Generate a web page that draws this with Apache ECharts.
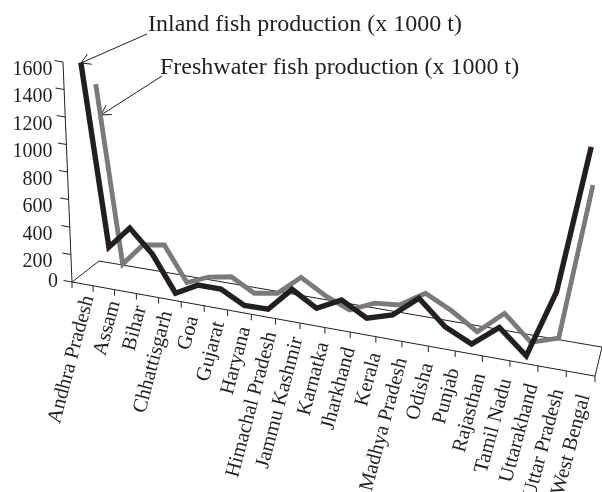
<!DOCTYPE html>
<html>
<head>
<meta charset="utf-8">
<script src="https://cdn.jsdelivr.net/npm/echarts@6/dist/echarts.min.js"></script>
<style>
html,body{margin:0;padding:0;background:#ffffff;}
#chart{width:602px;height:492px;}
</style>
</head>
<body>
<div id="chart"></div>
<script>
// ---- data ----
const categories = ['Andhra Pradesh','Assam','Bihar','Chhattisgarh','','Goa','Gujarat','Haryana',
  'Himachal Pradesh','Jammu Kashmir','Karnatka','Jharkhand','Kerala','Madhya Pradesh','Odisha',
  'Punjab','Rajasthan','Tamil Nadu','Uttarakhand','Uttar Pradesh','West Bengal'];
const inlandProduction = [1580, 255, 417, 256, 5, 90, 90, 5, 8, 172, 72, 157, 64, 115, 254, 98, 17, 154, 3, 439, 1374];
const freshwaterProduction = [1373, 55, 221, 246, 0, 67, 96, 7, 35, 173, 76, 5, 81, 97, 204, 118, 8, 158, 0, 57, 1067];
const valueTicks = [0, 200, 400, 600, 800, 1000, 1200, 1400, 1600];
const seriesNames = ['Inland fish production (x 1000 t)', 'Freshwater fish production (x 1000 t)'];

// ---- styling ----
const INK = '#231f20';
const GRAY = '#7a7a7a';
const SERIF = '"Liberation Serif","Times New Roman",serif';
const N = categories.length;

// perspective mapping of the flat cartesian grid onto the 3-D floor
function project(cs, px, py, s) {
  const x0 = cs.x, y0 = cs.y + cs.height, W = cs.width;
  const tau = (px - x0) / W;
  const h0 = y0 - py;
  const X = x0 + W * (0.8387 * tau + 0.1613 * tau * tau);
  const Yf = y0 + 0.18 * (X - x0);
  const bx = X + s * (27 - 20 * tau);
  const by = Yf + s * (-21 - 8 * tau);
  const h = h0 * Math.sqrt(1 + 0.3847 * tau) * (1 - 0.04 * s);
  const lean = (bx - 330) * h / 6300;
  return [bx + lean, by - h];
}

function renderFloor(params, api) {
  const cs = params.coordSys;
  const x0 = cs.x, y0 = cs.y + cs.height, W = cs.width;
  const P = (px, py, s) => project(cs, px, py, s);
  const bandX = k => x0 + W * k / N;
  const thin = {stroke: INK, lineWidth: 1, fill: null};
  const children = [];
  const front = [], back = [];
  for (let k = 0; k <= N; k++) {
    front.push(P(bandX(k), y0, 0));
    back.push(P(bandX(k), y0, 1));
  }
  children.push({type: 'polyline', shape: {points: front}, style: thin});
  children.push({type: 'polyline', shape: {points: back}, style: thin});
  children.push({type: 'line', shape: {x1: front[0][0], y1: front[0][1], x2: back[0][0], y2: back[0][1]}, style: thin});
  children.push({type: 'line', shape: {x1: front[N][0], y1: front[N][1], x2: back[N][0], y2: back[N][1]}, style: thin});
  for (let k = 0; k <= N; k++) {
    const p = front[k];
    children.push({type: 'line', shape: {x1: p[0], y1: p[1], x2: p[0], y2: p[1] + 6}, style: thin});
  }
  // value axis
  const axisPts = valueTicks.map(v => P(x0, api.coord([0, v])[1], 0));
  const top = axisPts[axisPts.length - 1];
  children.push({type: 'line', shape: {x1: axisPts[0][0], y1: axisPts[0][1], x2: top[0], y2: top[1]}, style: thin});
  axisPts.forEach((p, j) => {
    children.push({type: 'line', shape: {x1: p[0], y1: p[1], x2: p[0] - 8.5, y2: p[1] - 1.5}, style: thin});
    const v = valueTicks[j];
    children.push({
      type: 'text',
      x: v === 0 ? p[0] - 14 : top[0] - 10.5,
      y: v === 0 ? p[1] : p[1] + 7.5,
      style: {text: String(v), font: '20px ' + SERIF, fill: INK, align: 'right', verticalAlign: 'middle'}
    });
  });
  // category labels, spread evenly along the front edge
  const named = [];
  categories.forEach((c, i) => { if (c) named.push(i); });
  const f0 = P(api.coord([named[0], 0])[0], y0, 0);
  const f1 = P(api.coord([named[named.length - 1], 0])[0], y0, 0);
  const a0 = [f0[0] + 6, f0[1] + 12];
  const a1 = [f1[0] + 4, f1[1] + 21];
  named.forEach((i, j) => {
    const r = j / (named.length - 1);
    children.push({
      type: 'text',
      x: a0[0] + (a1[0] - a0[0]) * r,
      y: a0[1] + (a1[1] - a0[1]) * r,
      rotation: 75 * Math.PI / 180,
      style: {text: categories[i], font: '20.5px ' + SERIF, fill: INK, align: 'right', verticalAlign: 'middle'}
    });
  });
  return {type: 'group', children};
}

function lineRenderer(values, depth, color, width) {
  return function (params, api) {
    const cs = params.coordSys;
    const pts = values.map((v, i) => {
      const c = api.coord([i, v]);
      return project(cs, c[0], c[1], depth);
    });
    return {
      type: 'polyline',
      shape: {points: pts},
      style: {stroke: color, lineWidth: width, fill: null, lineJoin: 'miter', miterLimit: 6, lineCap: 'butt'}
    };
  };
}

function arrow(x1, y1, x2, y2) {
  const ang = Math.atan2(y1 - y2, x1 - x2);
  const L = 11, spread = 30 * Math.PI / 180;
  const b1 = [x2 + L * Math.cos(ang - spread), y2 + L * Math.sin(ang - spread)];
  const b2 = [x2 + L * Math.cos(ang + spread), y2 + L * Math.sin(ang + spread)];
  return [
    {type: 'line', shape: {x1, y1, x2, y2}, style: {stroke: INK, lineWidth: 1}},
    {type: 'polyline', shape: {points: [b1, [x2, y2], b2]}, style: {stroke: INK, lineWidth: 1, fill: null}}
  ];
}

const chart = echarts.init(document.getElementById('chart'), null, {renderer: 'canvas'});
chart.setOption({
  animation: false,
  backgroundColor: '#ffffff',
  grid: {left: 72, right: 7, top: 62, bottom: 210},
  xAxis: {type: 'category', data: categories, show: false, boundaryGap: true},
  yAxis: {type: 'value', min: 0, max: 1600, interval: 200, show: false},
  series: [
    {type: 'custom', name: 'floor', coordinateSystem: 'cartesian2d', data: [[0, 0]], renderItem: renderFloor, clip: false, z: 1, silent: true},
    {type: 'custom', name: seriesNames[1], coordinateSystem: 'cartesian2d', data: [[0, 0]],
     renderItem: lineRenderer(freshwaterProduction, 0.75, GRAY, 4.8), clip: false, z: 2, silent: true},
    {type: 'custom', name: seriesNames[0], coordinateSystem: 'cartesian2d', data: [[0, 0]],
     renderItem: lineRenderer(inlandProduction, 0.25, INK, 5.4), clip: false, z: 3, silent: true}
  ],
  graphic: [
    {type: 'text', x: 148, y: 25, style: {text: seriesNames[0], font: '24px ' + SERIF, fill: INK, align: 'left', verticalAlign: 'middle'}},
    {type: 'text', x: 160, y: 68, style: {text: seriesNames[1], font: '24px ' + SERIF, fill: INK, align: 'left', verticalAlign: 'middle'}},
    ...arrow(147, 34, 81, 63),
    ...arrow(162, 76, 101, 115)
  ]
});
</script>
</body>
</html>
